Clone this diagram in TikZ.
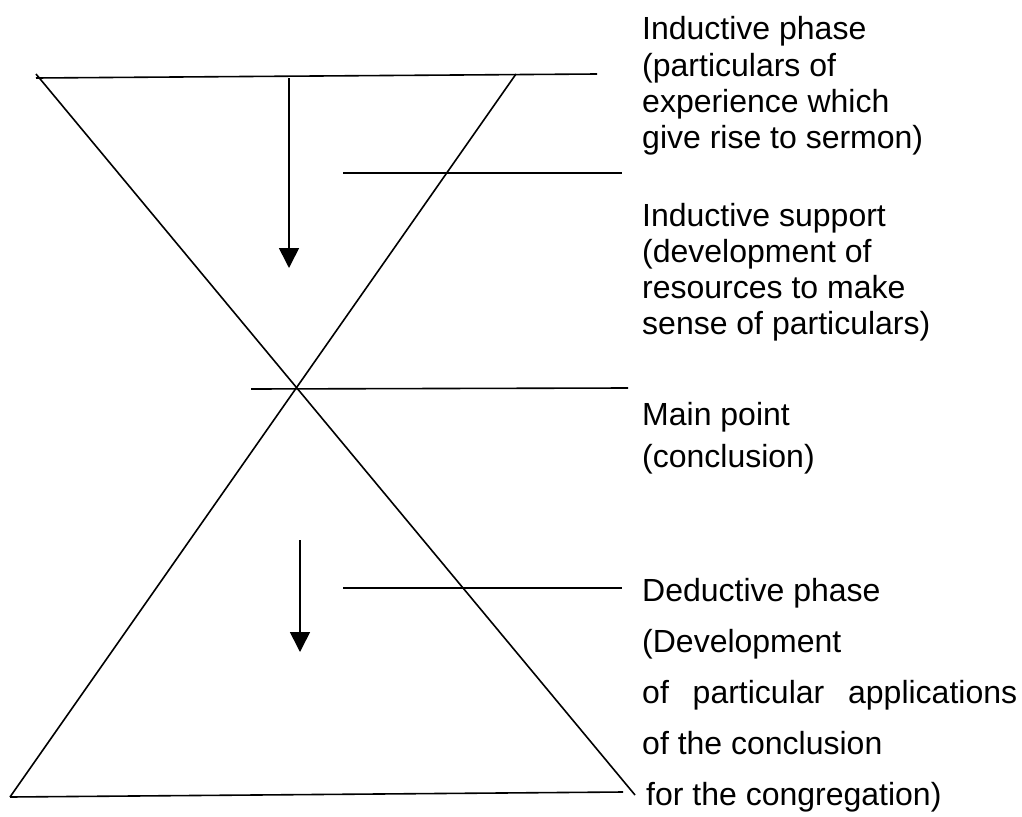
\documentclass[tikz,border=0pt]{standalone}
\usepackage{fontspec}
\setmainfont{Liberation Sans}
\usetikzlibrary{arrows.meta}
\tikzset{
  ln/.style={line width=1.6pt, black},
  arr/.style={line width=1.6pt, -{Triangle[width=20pt,length=20pt]}},
  lbl/.style={anchor=base west, inner sep=0pt, font=\fontsize{32}{37}\selectfont}
}
\begin{document}
\begin{tikzpicture}[x=1pt,y=-1pt]
\useasboundingbox (0,0) rectangle (1022,816);
% frame points
\coordinate (TL) at (36,78);
\coordinate (TR) at (597,74);
\coordinate (LD1) at (36,74);
\coordinate (LD2) at (635,795);
\coordinate (RD1) at (516,74);
\coordinate (RD2) at (10,797);
\coordinate (BL) at (10,797);
\coordinate (BR) at (623,792);
\coordinate (L2a) at (343,173);
\coordinate (L2b) at (622,173);
\coordinate (MLa) at (251,389);
\coordinate (MLb) at (628,388);
\coordinate (L4a) at (343,588);
\coordinate (L4b) at (622,588);
\coordinate (A1s) at (289,78);
\coordinate (A1e) at (289,268);
\coordinate (A2s) at (300,540);
\coordinate (A2e) at (300,652);
\draw[ln] (TL) -- (TR);
\draw[ln] (LD1) -- (LD2);
\draw[ln] (RD1) -- (RD2);
\draw[ln] (BL) -- (BR);
\draw[ln] (L2a) -- (L2b);
\draw[ln] (MLa) -- (MLb);
\draw[ln] (L4a) -- (L4b);
\draw[arr] (A1s) -- (A1e);
\draw[arr] (A2s) -- (A2e);
% labels
\node[lbl] (t1a) at (642,40) {Inductive phase};
\node[lbl] (t1b) at (642,76) {(particulars of};
\node[lbl] (t1c) at (642,112) {experience which};
\node[lbl] (t1d) at (642,148) {give rise to sermon)};
\node[lbl] (t2a) at (642,226) {Inductive support};
\node[lbl] (t2b) at (642,262) {(development of};
\node[lbl] (t2c) at (642,298) {resources to make};
\node[lbl] (t2d) at (642,334) {sense of particulars)};
\node[lbl] (t3a) at (642,425) {Main point};
\node[lbl] (t3b) at (642,467) {(conclusion)};
\node[lbl] (t4a) at (642,601) {Deductive phase};
\node[lbl] (t4b) at (642,652) {(Development};
\node[lbl, text width=375pt, align=justify] (t4c) at (642,703) {of\hfill particular\hfill applications};
\node[lbl] (t4d) at (642,754) {of the conclusion};
\node[lbl] (t4e) at (646,805) {for the congregation)};
\end{tikzpicture}
\end{document}
